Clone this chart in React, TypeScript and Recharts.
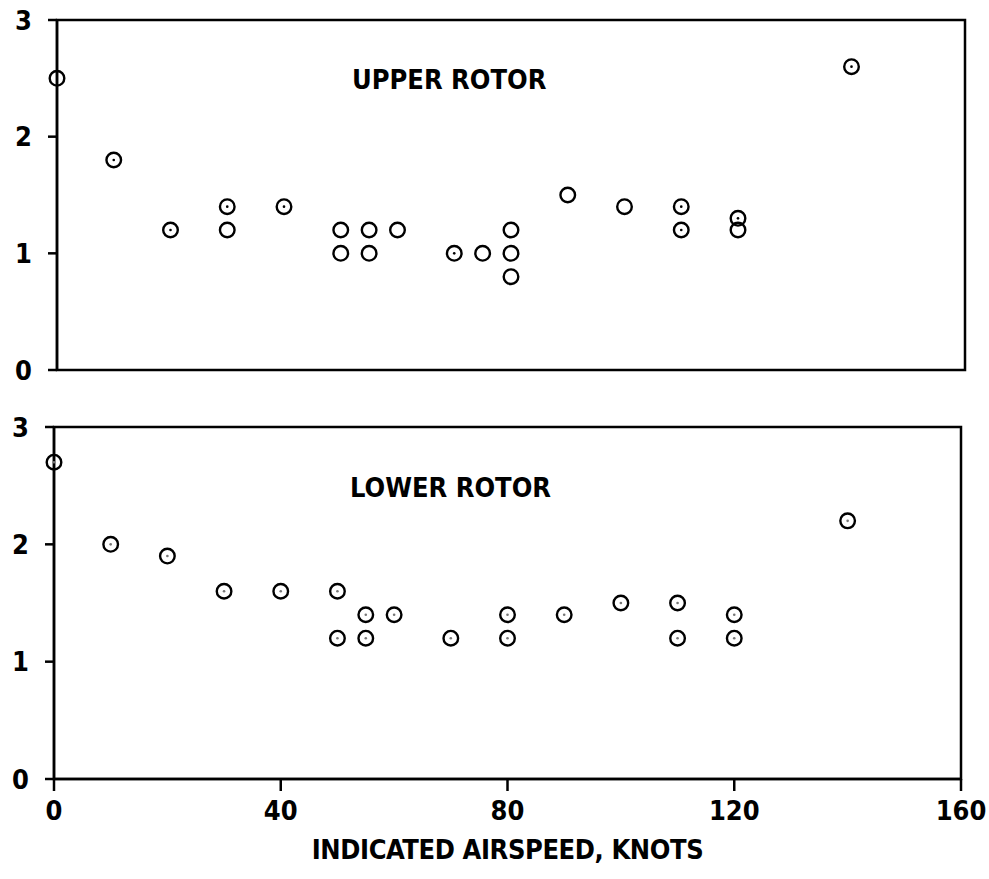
import { ScatterChart, Scatter, XAxis, YAxis, ReferenceArea } from "recharts";

// upper rotor: points drawn with a centre dot, and plain open circles
const upperDottedSpeed = [10, 20, 30, 40, 70, 110, 110, 120, 140];
const upperDottedValue = [1.8, 1.2, 1.4, 1.4, 1.0, 1.4, 1.2, 1.3, 2.6];
const upperOpenSpeed = [0, 30, 50, 50, 55, 55, 60, 75, 80, 80, 80, 90, 100, 120];
const upperOpenValue = [2.5, 1.2, 1.2, 1.0, 1.2, 1.0, 1.2, 1.0, 1.2, 1.0, 0.8, 1.5, 1.4, 1.2];

// lower rotor
const lowerSpeed = [0, 10, 20, 30, 40, 50, 50, 55, 55, 60, 70, 80, 80, 90, 100, 110, 110, 120, 120, 140];
const lowerValue = [2.7, 2.0, 1.9, 1.6, 1.6, 1.6, 1.2, 1.4, 1.2, 1.4, 1.2, 1.4, 1.2, 1.4, 1.5, 1.5, 1.2, 1.4, 1.2, 2.2];

const yTicks = [0, 1, 2, 3];
const xTicks = [0, 40, 80, 120, 160];

const toPoints = (xs: number[], ys: number[]) => xs.map((x, i) => ({ x, y: ys[i] }));

const FONT = '"Liberation Sans Narrow", "DejaVu Sans Condensed", "Roboto", sans-serif';
const tickStyle = { fontFamily: FONT, fontWeight: 700, fontSize: 27, fill: "#000" };

const ring = (centre: string) => (props: any) => (
  <g>
    <circle cx={props.cx} cy={props.cy} r={7.3} fill="none" stroke="#000" strokeWidth={2.4} />
    {centre !== "none" && <circle cx={props.cx} cy={props.cy} r={1.3} fill={centre} />}
  </g>
);

const panelTitle = (text: string, left: number, top: number) => (
  <div
    style={{
      position: "absolute",
      left,
      top,
      fontFamily: FONT,
      fontWeight: 700,
      fontSize: 27,
      lineHeight: "28px",
      color: "#000",
    }}
  >
    {text}
  </div>
);

export default function App() {
  return (
    <div style={{ position: "absolute", left: 0, top: 0, width: 989, height: 879, background: "#fff" }}>
      <div style={{ position: "absolute", left: 0, top: 0 }}>
        <ScatterChart width={989} height={400} margin={{ top: 20, right: 24, bottom: 30, left: 0 }}>
          <XAxis type="number" dataKey="x" domain={[0, 160]} hide />
          <YAxis
            type="number"
            dataKey="y"
            domain={[0, 3]}
            ticks={yTicks}
            width={57}
            tickSize={9}
            tickMargin={16}
            tick={tickStyle}
            axisLine={{ stroke: "#000", strokeWidth: 2.5 }}
            tickLine={{ stroke: "#000", strokeWidth: 2.5 }}
          />
          <ReferenceArea x1={0} x2={160} y1={0} y2={3} fill="none" stroke="#000" strokeWidth={2.5} />
          <Scatter data={toPoints(upperOpenSpeed, upperOpenValue)} shape={ring("none")} isAnimationActive={false} />
          <Scatter data={toPoints(upperDottedSpeed, upperDottedValue)} shape={ring("#000")} isAnimationActive={false} />
        </ScatterChart>
      </div>
      <div style={{ position: "absolute", left: 0, top: 400 }}>
        <ScatterChart width={989} height={479} margin={{ top: 27, right: 28, bottom: 0, left: 0 }}>
          <XAxis
            type="number"
            dataKey="x"
            domain={[0, 160]}
            ticks={xTicks}
            height={100}
            tickSize={12}
            tickMargin={10}
            tick={tickStyle}
            axisLine={{ stroke: "#000", strokeWidth: 2.5 }}
            tickLine={{ stroke: "#000", strokeWidth: 2.5 }}
            label={{
              value: "INDICATED AIRSPEED, KNOTS",
              position: "insideBottom",
              offset: 20,
              style: { fontFamily: FONT, fontWeight: 700, fontSize: 27, letterSpacing: -0.4, fill: "#000" },
            }}
          />
          <YAxis
            type="number"
            dataKey="y"
            domain={[0, 3]}
            ticks={yTicks}
            width={54}
            tickSize={9}
            tickMargin={16}
            tick={tickStyle}
            axisLine={{ stroke: "#000", strokeWidth: 2.5 }}
            tickLine={{ stroke: "#000", strokeWidth: 2.5 }}
          />
          <ReferenceArea x1={0} x2={160} y1={0} y2={3} fill="none" stroke="#000" strokeWidth={2.5} />
          <Scatter data={toPoints(lowerSpeed, lowerValue)} shape={ring("#777")} isAnimationActive={false} />
        </ScatterChart>
      </div>
      {panelTitle("UPPER ROTOR", 352, 66)}
      {panelTitle("LOWER ROTOR", 350, 474)}
    </div>
  );
}
